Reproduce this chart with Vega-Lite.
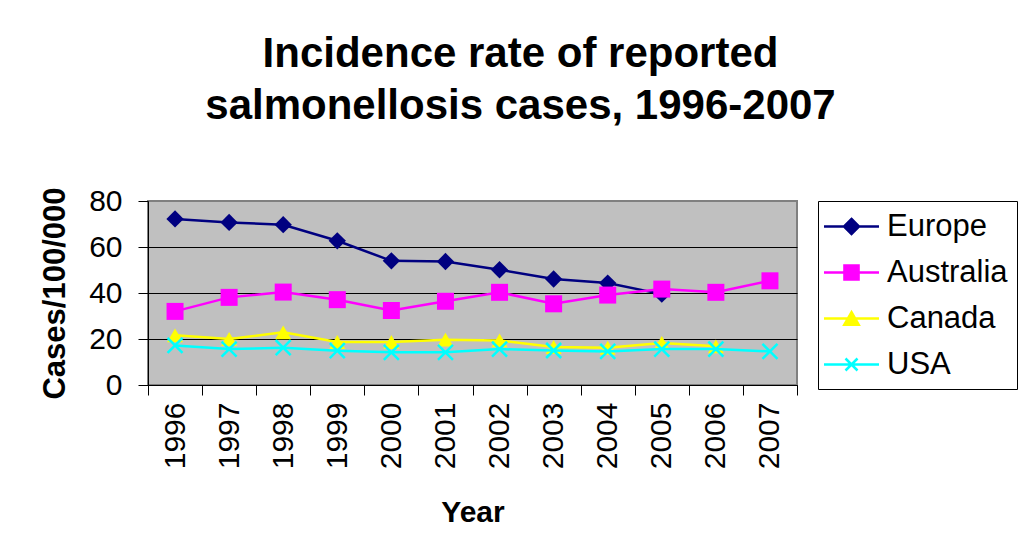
{
  "$schema": "https://vega.github.io/schema/vega-lite/v6.json",
  "width": 649,
  "height": 184,
  "autosize": {"type": "none"},
  "padding": {"left": 148, "top": 201, "right": 224, "bottom": 172},
  "background": "white",
  "title": {
    "text": ["Incidence rate of reported", "salmonellosis cases, 1996-2007"],
    "font": "Liberation Sans",
    "fontSize": 42,
    "fontWeight": "bold",
    "lineHeight": 52,
    "color": "black",
    "anchor": "middle",
    "frame": "group",
    "dx": 48,
    "offset": 58
  },
  "config": {
    "font": "Liberation Sans",
    "view": {"fill": "#C0C0C0", "stroke": "#808080", "strokeWidth": 2},
    "axis": {
      "labelFont": "Liberation Sans",
      "titleFont": "Liberation Sans",
      "labelColor": "black",
      "titleColor": "black",
      "domainColor": "black",
      "tickColor": "black",
      "labelFontSize": 30,
      "titleFontSize": 31,
      "titleFontWeight": "bold",
      "tickSize": 10
    },
    "legend": {
      "labelFont": "Liberation Sans",
      "labelFontSize": 31,
      "labelColor": "black"
    }
  },
  "data": {
    "values": [
      {"year": 1996, "country": "Europe", "rate": 72.2},
      {"year": 1997, "country": "Europe", "rate": 70.7},
      {"year": 1998, "country": "Europe", "rate": 69.7},
      {"year": 1999, "country": "Europe", "rate": 62.7},
      {"year": 2000, "country": "Europe", "rate": 54.0},
      {"year": 2001, "country": "Europe", "rate": 53.7},
      {"year": 2002, "country": "Europe", "rate": 50.1},
      {"year": 2003, "country": "Europe", "rate": 46.1},
      {"year": 2004, "country": "Europe", "rate": 44.3},
      {"year": 2005, "country": "Europe", "rate": 39.5},
      {"year": 1996, "country": "Australia", "rate": 32.0},
      {"year": 1997, "country": "Australia", "rate": 38.1},
      {"year": 1998, "country": "Australia", "rate": 40.4},
      {"year": 1999, "country": "Australia", "rate": 37.1},
      {"year": 2000, "country": "Australia", "rate": 32.4},
      {"year": 2001, "country": "Australia", "rate": 36.4},
      {"year": 2002, "country": "Australia", "rate": 40.3},
      {"year": 2003, "country": "Australia", "rate": 35.3},
      {"year": 2004, "country": "Australia", "rate": 39.1},
      {"year": 2005, "country": "Australia", "rate": 41.7},
      {"year": 2006, "country": "Australia", "rate": 40.3},
      {"year": 2007, "country": "Australia", "rate": 45.3},
      {"year": 1996, "country": "Canada", "rate": 21.6},
      {"year": 1997, "country": "Canada", "rate": 20.0},
      {"year": 1998, "country": "Canada", "rate": 22.9},
      {"year": 1999, "country": "Canada", "rate": 18.7},
      {"year": 2000, "country": "Canada", "rate": 18.7},
      {"year": 2001, "country": "Canada", "rate": 19.7},
      {"year": 2002, "country": "Canada", "rate": 19.4},
      {"year": 2003, "country": "Canada", "rate": 16.5},
      {"year": 2004, "country": "Canada", "rate": 16.2},
      {"year": 2005, "country": "Canada", "rate": 18.3},
      {"year": 2006, "country": "Canada", "rate": 16.8},
      {"year": 1996, "country": "USA", "rate": 17.2},
      {"year": 1997, "country": "USA", "rate": 15.6},
      {"year": 1998, "country": "USA", "rate": 16.2},
      {"year": 1999, "country": "USA", "rate": 14.9},
      {"year": 2000, "country": "USA", "rate": 14.2},
      {"year": 2001, "country": "USA", "rate": 14.2},
      {"year": 2002, "country": "USA", "rate": 15.6},
      {"year": 2003, "country": "USA", "rate": 15.0},
      {"year": 2004, "country": "USA", "rate": 14.6},
      {"year": 2005, "country": "USA", "rate": 15.6},
      {"year": 2006, "country": "USA", "rate": 15.6},
      {"year": 2007, "country": "USA", "rate": 14.6}
    ]
  },
  "encoding": {
    "x": {
      "field": "year",
      "type": "ordinal",
      "title": "Year",
      "scale": {"type": "band", "paddingInner": 0, "paddingOuter": 0, "domain": [1996, 1997, 1998, 1999, 2000, 2001, 2002, 2003, 2004, 2005, 2006, 2007]},
      "axis": {
        "labelAngle": -90,
        "labelAlign": "right",
        "labelBaseline": "middle",
        "labelPadding": 7,
        "tickBand": "extent",
        "titlePadding": 29,
        "titleFontSize": 30
      }
    },
    "y": {
      "field": "rate",
      "type": "quantitative",
      "title": "Cases/100/000",
      "scale": {"domain": [0, 80], "nice": false},
      "axis": {
        "values": [0, 20, 40, 60, 80],
        "grid": true,
        "gridColor": {"condition": {"test": "datum.value == 80", "value": "#808080"}, "value": "black"},
        "gridOpacity": 1,
        "gridWidth": 1,
        "labelPadding": 16,
        "titlePadding": 17
      }
    }
  },
  "layer": [
    {"transform": [{"filter": "datum.country == 'Europe'"}], "mark": {"type": "line", "color": "#000080", "strokeWidth": 2.5}},
    {"transform": [{"filter": "datum.country == 'Europe'"}], "mark": {"type": "point", "shape": "diamond", "size": 300, "filled": true, "color": "#000080", "opacity": 1}},
    {"transform": [{"filter": "datum.country == 'Australia'"}], "mark": {"type": "line", "color": "#FF00FF", "strokeWidth": 2.5}},
    {"transform": [{"filter": "datum.country == 'Australia'"}], "mark": {"type": "point", "shape": "square", "size": 289, "filled": true, "color": "#FF00FF", "opacity": 1}},
    {"transform": [{"filter": "datum.country == 'Canada'"}], "mark": {"type": "line", "color": "#FFFF00", "strokeWidth": 2.5}},
    {"transform": [{"filter": "datum.country == 'Canada'"}], "mark": {"type": "point", "shape": "triangle-up", "size": 256, "filled": true, "color": "#FFFF00", "opacity": 1}},
    {"transform": [{"filter": "datum.country == 'USA'"}], "mark": {"type": "line", "color": "#00FFFF", "strokeWidth": 2.5}},
    {"transform": [{"filter": "datum.country == 'USA'"}], "mark": {"type": "point", "shape": "M-1,-1L1,1M-1,1L1,-1", "size": 225, "filled": false, "color": "#00FFFF", "strokeWidth": 2.5, "opacity": 1}},
    {
      "mark": {"type": "point", "filled": true, "opacity": 0},
      "encoding": {
        "color": {
          "field": "country",
          "type": "nominal",
          "scale": {"domain": ["Europe", "Australia", "Canada", "USA"], "range": ["#000080", "#FF00FF", "#FFFF00", "#00FFFF"]},
          "legend": {
            "title": null,
            "orient": "none",
            "legendX": 670,
            "legendY": 0,
            "strokeColor": "#000000",
            "padding": 9,
            "symbolSize": 900,
            "symbolStrokeWidth": 2.5,
            "symbolOpacity": 1,
            "symbolOffset": 8,
            "labelOffset": 19,
            "rowPadding": 14,
            "labelLimit": 300,
            "encode": {
              "symbols": {
                "update": {
                  "stroke": {"scale": "color", "field": "value"},
                  "fill": {"scale": "color", "field": "value"},
                  "opacity": {"value": 1},
                  "strokeWidth": {"value": 2.5}
                }
              }
            }
          }
        },
        "shape": {
          "field": "country",
          "type": "nominal",
          "scale": {
            "domain": ["Europe", "Australia", "Canada", "USA"],
            "range": [
              "M-1.833,0H1.833M0,-0.5L0.5,0L0,0.5L-0.5,0Z",
              "M-1.833,0H1.833M-0.47,-0.47H0.47V0.47H-0.47Z",
              "M-1.833,0H1.833M0,-0.42L0.48,0.42H-0.48Z",
              "M-1.833,0H1.833M-0.4,-0.4L0.4,0.4M-0.4,0.4L0.4,-0.4"
            ]
          },
          "legend": {
            "title": null,
            "orient": "none",
            "legendX": 670,
            "legendY": 0
          }
        }
      }
    }
  ]
}
